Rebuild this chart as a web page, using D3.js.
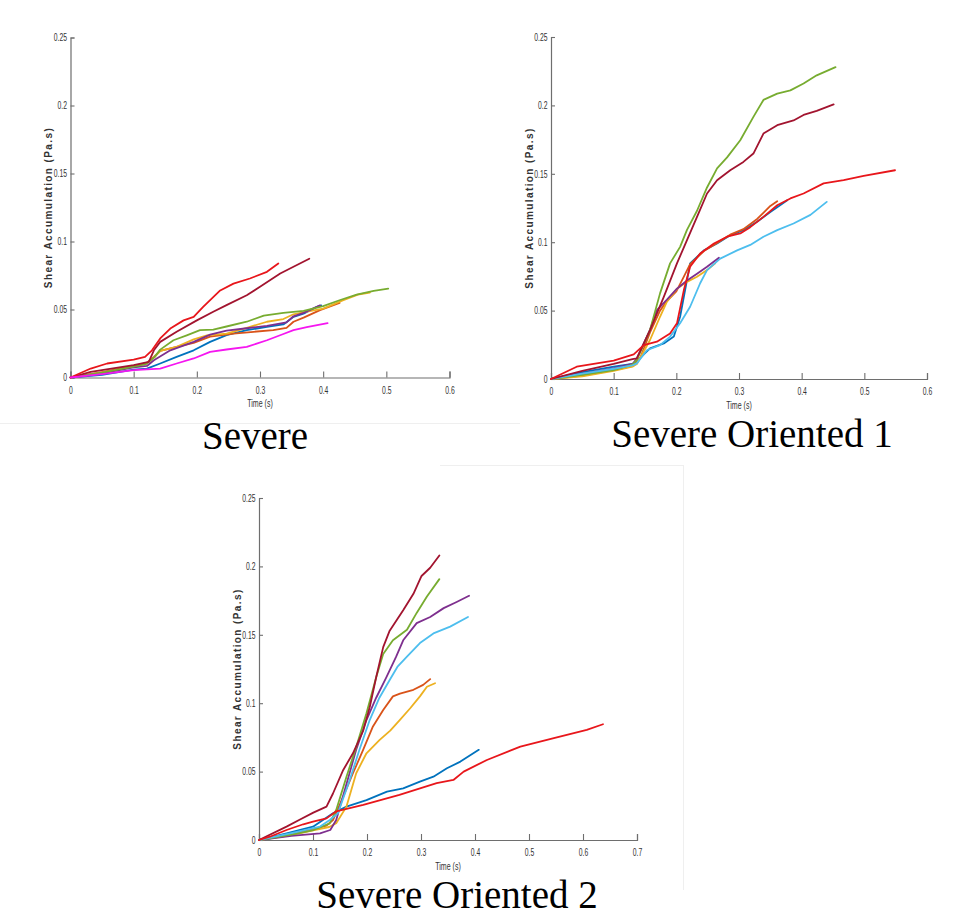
<!DOCTYPE html>
<html>
<head>
<meta charset="utf-8">
<script src="https://cdn.jsdelivr.net/npm/d3@7/dist/d3.min.js"></script>
<style>
  html, body { margin: 0; padding: 0; background: #ffffff; }
  svg { display: block; }
  .tick-label { font-family: "Liberation Sans", Arial, sans-serif; font-size: 10px; fill: #333333; }
  .x-title { font-family: "Liberation Sans", Arial, sans-serif; font-size: 11px; fill: #333333; }
  .y-title { font-family: "Liberation Sans", Arial, sans-serif; font-size: 10px; font-weight: bold; letter-spacing: 1.4px; fill: #333333; }
  .panel-title { font-family: "Liberation Serif", "Times New Roman", serif; font-size: 39px; fill: #000000; }
</style>
</head>
<body>
<script>
// ---- Tick values ----
const yTicks = [0, 0.05, 0.1, 0.15, 0.2, 0.25];
const xTicksTo06 = [0, 0.1, 0.2, 0.3, 0.4, 0.5, 0.6];
const xTicksTo07 = [0, 0.1, 0.2, 0.3, 0.4, 0.5, 0.6, 0.7];

// ---- Panel titles and axis titles ----
const panelTitles = ["Severe", "Severe Oriented 1", "Severe Oriented 2"];
const xAxisTitle = "Time (s)";
const yAxisTitle = "Shear Accumulation (Pa.s)";

// ---- Shear accumulation curves, [time (s), shear accumulation (Pa.s)] ----
// Severe
const severeRuns = [
  { run: "blue", points: [[0,0],[0.05,0.002],[0.1,0.0058],[0.121,0.0065],[0.142,0.0103],[0.168,0.0152],[0.195,0.020],[0.221,0.0262],[0.247,0.0311],[0.279,0.0348],[0.311,0.0372],[0.337,0.039],[0.353,0.0446],[0.369,0.0470],[0.39,0.052],[0.397,0.0530]] },
  { run: "orange", points: [[0,0],[0.05,0.004],[0.1,0.0085],[0.12,0.0105],[0.132,0.0152],[0.142,0.0195],[0.168,0.0225],[0.195,0.0255],[0.221,0.030],[0.258,0.0323],[0.29,0.0336],[0.321,0.0348],[0.342,0.0365],[0.353,0.0410],[0.369,0.0440],[0.395,0.0495],[0.426,0.0549]] },
  { run: "yellow", points: [[0,0],[0.05,0.0035],[0.1,0.008],[0.12,0.0100],[0.133,0.0150],[0.142,0.0195],[0.168,0.0225],[0.195,0.028],[0.216,0.031],[0.247,0.0323],[0.279,0.0365],[0.311,0.0410],[0.337,0.0430],[0.353,0.0465],[0.37,0.0480],[0.40,0.0507],[0.432,0.0569],[0.455,0.0610],[0.474,0.0625]] },
  { run: "purple", points: [[0,0],[0.05,0.003],[0.1,0.0075],[0.121,0.0085],[0.132,0.0127],[0.158,0.020],[0.195,0.0262],[0.221,0.0315],[0.247,0.0345],[0.279,0.0362],[0.311,0.0380],[0.342,0.0405],[0.353,0.0450],[0.369,0.0475],[0.395,0.0530]] },
  { run: "green", points: [[0,0],[0.05,0.0035],[0.1,0.0080],[0.12,0.0100],[0.133,0.0150],[0.142,0.0205],[0.163,0.0274],[0.184,0.031],[0.205,0.0348],[0.226,0.0352],[0.247,0.0375],[0.279,0.041],[0.306,0.0455],[0.337,0.0475],[0.369,0.0490],[0.40,0.0525],[0.427,0.0570],[0.453,0.0610],[0.48,0.0637],[0.503,0.0654]] },
  { run: "darkRed", points: [[0,0],[0.032,0.0042],[0.1,0.0091],[0.124,0.0115],[0.132,0.020],[0.142,0.0262],[0.168,0.0336],[0.2,0.042],[0.226,0.0483],[0.247,0.0532],[0.279,0.0605],[0.30,0.0667],[0.332,0.0765],[0.353,0.0814],[0.378,0.0873]] },
  { run: "red", points: [[0,0],[0.032,0.0066],[0.058,0.0103],[0.1,0.0132],[0.118,0.0152],[0.129,0.020],[0.142,0.0287],[0.158,0.036],[0.179,0.042],[0.195,0.0446],[0.21,0.052],[0.237,0.064],[0.258,0.069],[0.284,0.0728],[0.311,0.0777],[0.329,0.0838]] },
  { run: "magenta", points: [[0,0],[0.05,0.0025],[0.1,0.0054],[0.142,0.0066],[0.168,0.0103],[0.195,0.014],[0.221,0.0189],[0.247,0.0206],[0.279,0.0225],[0.311,0.0274],[0.337,0.032],[0.353,0.0348],[0.374,0.037],[0.407,0.040]] }
];

// Severe Oriented 1
const oriented1Runs = [
  { run: "blue", points: [[0,0],[0.05,0.005],[0.1,0.009],[0.13,0.011],[0.137,0.0130],[0.158,0.0224],[0.18,0.026],[0.196,0.031],[0.206,0.0455],[0.214,0.065],[0.222,0.0845],[0.244,0.094],[0.265,0.099],[0.286,0.105],[0.307,0.1088],[0.329,0.115],[0.35,0.122],[0.377,0.1307]] },
  { run: "orange", points: [[0,0],[0.05,0.0025],[0.1,0.0065],[0.13,0.0095],[0.142,0.0150],[0.158,0.034],[0.174,0.0500],[0.185,0.0570],[0.2,0.0640],[0.21,0.0730],[0.222,0.0840],[0.244,0.0935],[0.265,0.0995],[0.286,0.1055],[0.307,0.1095],[0.329,0.1170],[0.35,0.1265],[0.361,0.1300]] },
  { run: "yellow", points: [[0,0],[0.05,0.002],[0.1,0.006],[0.13,0.009],[0.137,0.0110],[0.158,0.0285],[0.174,0.0455],[0.185,0.0565],[0.201,0.066],[0.217,0.071],[0.233,0.0747],[0.249,0.0796],[0.262,0.0845]] },
  { run: "purple", points: [[0,0],[0.05,0.004],[0.1,0.008],[0.13,0.011],[0.137,0.015],[0.158,0.036],[0.169,0.0504],[0.185,0.058],[0.201,0.066],[0.217,0.072],[0.233,0.077],[0.249,0.082],[0.268,0.0886]] },
  { run: "green", points: [[0,0],[0.05,0.003],[0.1,0.0065],[0.13,0.0105],[0.137,0.0139],[0.158,0.0358],[0.174,0.0626],[0.19,0.0845],[0.206,0.0966],[0.217,0.109],[0.233,0.123],[0.249,0.140],[0.265,0.154],[0.281,0.162],[0.302,0.1745],[0.323,0.1916],[0.339,0.204],[0.361,0.2086],[0.382,0.211],[0.403,0.216],[0.424,0.222],[0.454,0.228]] },
  { run: "lightBlue", points: [[0,0],[0.05,0.004],[0.1,0.0075],[0.13,0.0100],[0.137,0.0114],[0.153,0.021],[0.174,0.0248],[0.19,0.031],[0.206,0.0407],[0.222,0.0528],[0.238,0.070],[0.249,0.0796],[0.27,0.088],[0.297,0.094],[0.318,0.098],[0.339,0.104],[0.361,0.1088],[0.387,0.1137],[0.414,0.120],[0.44,0.1295]] },
  { run: "darkRed", points: [[0,0],[0.05,0.006],[0.1,0.011],[0.13,0.0145],[0.137,0.015],[0.158,0.0358],[0.18,0.060],[0.201,0.0845],[0.217,0.1015],[0.233,0.1185],[0.249,0.1356],[0.265,0.1453],[0.286,0.1526],[0.307,0.1587],[0.323,0.1648],[0.339,0.1794],[0.361,0.1855],[0.387,0.189],[0.403,0.193],[0.424,0.196],[0.451,0.2008]] },
  { run: "red", points: [[0,0],[0.041,0.009],[0.1,0.0135],[0.132,0.0180],[0.148,0.0248],[0.169,0.0273],[0.19,0.0333],[0.201,0.0407],[0.212,0.065],[0.222,0.082],[0.238,0.0918],[0.26,0.099],[0.281,0.104],[0.302,0.1064],[0.318,0.111],[0.339,0.1185],[0.361,0.127],[0.382,0.132],[0.403,0.1356],[0.435,0.143],[0.467,0.1453],[0.499,0.1485],[0.549,0.1526]] }
];

// Severe Oriented 2
const oriented2Runs = [
  { run: "blue", points: [[0,0],[0.051,0.0049],[0.1,0.0097],[0.137,0.0195],[0.162,0.0244],[0.199,0.0292],[0.237,0.0354],[0.267,0.0378],[0.298,0.0427],[0.323,0.0463],[0.348,0.0524],[0.373,0.0573],[0.407,0.0659]] },
  { run: "orange", points: [[0,0],[0.06,0.004],[0.1,0.008],[0.125,0.0105],[0.137,0.0146],[0.156,0.0317],[0.174,0.0488],[0.193,0.066],[0.211,0.083],[0.23,0.0951],[0.248,0.105],[0.261,0.107],[0.286,0.1098],[0.304,0.1134],[0.317,0.1176]] },
  { run: "yellow", points: [[0,0],[0.06,0.0035],[0.1,0.007],[0.13,0.0095],[0.143,0.0122],[0.162,0.0244],[0.18,0.0488],[0.199,0.0634],[0.223,0.073],[0.243,0.080],[0.261,0.0878],[0.28,0.0963],[0.298,0.105],[0.311,0.112],[0.326,0.1146]] },
  { run: "purple", points: [[0,0],[0.06,0.003],[0.113,0.0049],[0.132,0.0073],[0.143,0.0146],[0.162,0.041],[0.18,0.066],[0.199,0.0877],[0.217,0.104],[0.236,0.119],[0.254,0.134],[0.267,0.146],[0.292,0.1585],[0.317,0.163],[0.342,0.1695],[0.366,0.174],[0.389,0.1785]] },
  { run: "green", points: [[0,0],[0.06,0.004],[0.101,0.0073],[0.131,0.0122],[0.143,0.022],[0.162,0.0463],[0.18,0.068],[0.199,0.0926],[0.217,0.119],[0.23,0.136],[0.248,0.146],[0.274,0.1537],[0.292,0.166],[0.311,0.178],[0.334,0.1907]] },
  { run: "lightBlue", points: [[0,0],[0.06,0.005],[0.113,0.0098],[0.131,0.0146],[0.146,0.0195],[0.168,0.0439],[0.186,0.066],[0.205,0.0877],[0.223,0.104],[0.242,0.117],[0.257,0.127],[0.274,0.134],[0.298,0.144],[0.323,0.151],[0.354,0.156],[0.387,0.163]] },
  { run: "darkRed", points: [[0,0],[0.051,0.0098],[0.076,0.0150],[0.1006,0.020],[0.125,0.0244],[0.137,0.034],[0.156,0.0512],[0.174,0.0634],[0.193,0.080],[0.205,0.097],[0.217,0.119],[0.23,0.141],[0.242,0.153],[0.267,0.168],[0.286,0.180],[0.301,0.193],[0.317,0.199],[0.334,0.208]] },
  { run: "red", points: [[0,0],[0.02,0.0024],[0.051,0.0073],[0.082,0.0115],[0.1,0.0135],[0.125,0.0158],[0.143,0.021],[0.193,0.0256],[0.26,0.033],[0.329,0.0415],[0.36,0.0439],[0.379,0.050],[0.422,0.0585],[0.484,0.0683],[0.546,0.0745],[0.607,0.0805],[0.637,0.0846]] }
];

// ---- Line colours per run ----
const runColors = {
  blue: "#0072BD", orange: "#D95319", yellow: "#EDB120", purple: "#7E2F8E",
  green: "#77AC30", lightBlue: "#4DBEEE", darkRed: "#A2142F", red: "#E8161B", magenta: "#F516F0"
};

const W = 959, H = 916;
const svg = d3.select("body").append("svg").attr("width", W).attr("height", H);

// faint frame edges of the composed figure
const frame = svg.append("g").attr("stroke", "#efefef").attr("stroke-width", 1).attr("fill", "none");
frame.append("line").attr("x1", 0).attr("x2", 520).attr("y1", 423.5).attr("y2", 423.5);
frame.append("line").attr("x1", 440).attr("x2", 683).attr("y1", 465.5).attr("y2", 465.5);
frame.append("line").attr("x1", 683.5).attr("x2", 683.5).attr("y1", 465).attr("y2", 890);

const panels = [
  { runs: severeRuns, title: panelTitles[0], left: 70.5, right: 449.5, top: 37.5, bottom: 377.5, xMax: 0.6, xTicks: xTicksTo06, titleX: 255, titleY: 449 },
  { runs: oriented1Runs, title: panelTitles[1], left: 551, right: 927, top: 37, bottom: 379, xMax: 0.6, xTicks: xTicksTo06, titleX: 752, titleY: 447 },
  { runs: oriented2Runs, title: panelTitles[2], left: 259, right: 637, top: 498, bottom: 840, xMax: 0.7, xTicks: xTicksTo07, titleX: 457, titleY: 908 }
];

const fmt = v => v === 0 ? "0" : String(+v.toFixed(2));

// squeeze a text horizontally to mimic the narrow figure font
function narrow(sel, factor) {
  sel.each(function () {
    const len = this.getComputedTextLength();
    d3.select(this).attr("textLength", len * factor).attr("lengthAdjust", "spacingAndGlyphs");
  });
}

panels.forEach(p => {
  const x = d3.scaleLinear().domain([0, p.xMax]).range([p.left, p.right]);
  const y = d3.scaleLinear().domain([0, 0.25]).range([p.bottom, p.top]);
  const g = svg.append("g");

  // x axis (inward ticks)
  const xAxis = d3.axisBottom(x).tickValues(p.xTicks).tickSize(-6).tickPadding(9).tickFormat(fmt);
  const gx = g.append("g").attr("transform", `translate(0,${p.bottom})`).call(xAxis);
  // y axis
  const yAxis = d3.axisLeft(y).tickValues(yTicks).tickSize(-4).tickPadding(7).tickFormat(fmt);
  const gy = g.append("g").attr("transform", `translate(${p.left},0)`).call(yAxis);

  [gx, gy].forEach(ax => {
    ax.select(".domain").attr("stroke", "#6e6e6e").attr("stroke-width", 1.2);
    ax.selectAll(".tick line").attr("stroke", "#6e6e6e").attr("stroke-width", 1.1);
    ax.selectAll(".tick text").attr("class", "tick-label").attr("font-family", null).attr("font-size", null).attr("fill", null);
    narrow(ax.selectAll(".tick text"), 0.68);
  });
  gy.selectAll(".tick text").attr("dx", "0.35em");

  // axis titles
  const xt = g.append("text").attr("class", "x-title").attr("text-anchor", "middle")
    .attr("x", (p.left + p.right) / 2).attr("y", p.bottom + 29.5).text(xAxisTitle);
  narrow(xt, 0.64);
  g.append("text").attr("class", "y-title").attr("text-anchor", "middle")
    .attr("transform", `translate(${p.left - 18.5},${(p.top + p.bottom) / 2}) rotate(-90)`)
    .text(yAxisTitle);

  // curves
  const line = d3.line().x(d => x(d[0])).y(d => y(d[1]));
  g.append("g").selectAll("path").data(p.runs).join("path")
    .attr("d", d => line(d.points))
    .attr("fill", "none")
    .attr("stroke", d => runColors[d.run])
    .attr("stroke-width", 1.8)
    .attr("stroke-linejoin", "round")
    .attr("stroke-linecap", "round");

  // panel title
  svg.append("text").attr("class", "panel-title").attr("text-anchor", "middle")
    .attr("x", p.titleX).attr("y", p.titleY).text(p.title);
});
</script>
</body>
</html>
